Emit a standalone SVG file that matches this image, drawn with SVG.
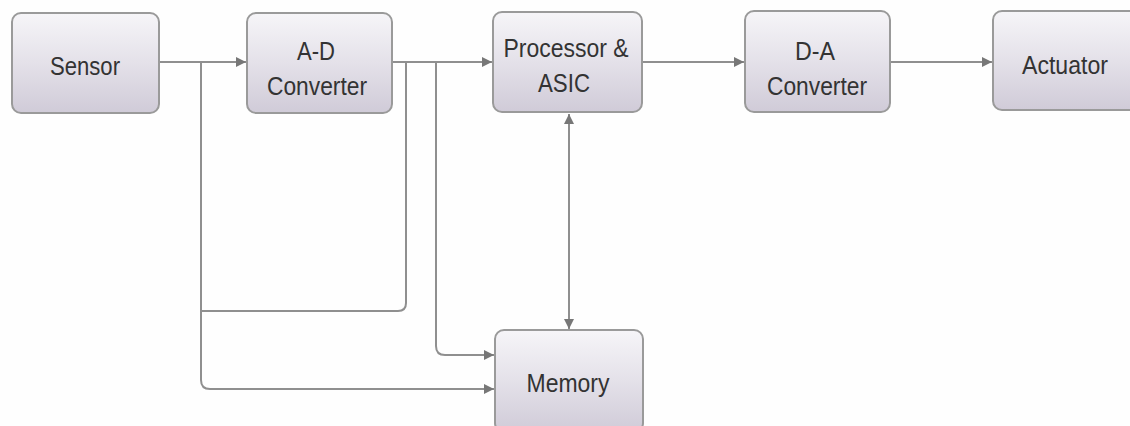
<svg xmlns="http://www.w3.org/2000/svg" width="1130" height="426" viewBox="0 0 1130 426">
<defs>
<linearGradient id="g" x1="0" y1="0" x2="0" y2="1">
<stop offset="0" stop-color="#f6f5f8"/>
<stop offset="0.5" stop-color="#e4e1e9"/>
<stop offset="1" stop-color="#d0cbd8"/>
</linearGradient>
<marker id="ah" viewBox="0 0 10 10" refX="10" refY="5" markerWidth="10" markerHeight="10" markerUnits="userSpaceOnUse" orient="auto-start-reverse">
<path d="M0,0 L10,5 L0,10 Z" fill="#777"/>
</marker>
<style>
.box{fill:url(#g);stroke:#9a9a9a;stroke-width:2}
.t{font-family:"Liberation Sans",Arial,sans-serif;font-size:26px;fill:#333;text-anchor:middle}
.c{fill:none;stroke:#8f8f8f;stroke-width:2}
</style>
</defs>
<rect width="1130" height="426" fill="#fefefe"/>
<g id="connectors">
<path class="c" d="M159,62 H246" marker-end="url(#ah)"/>
<path class="c" d="M201,62 V380 Q201,389 210,389 H494" marker-end="url(#ah)"/>
<path class="c" d="M201,311 H398 Q406,311 406,303 V62"/>
<path class="c" d="M392,62 H492" marker-end="url(#ah)"/>
<path class="c" d="M436,62 V346 Q436,355 445,355 H494" marker-end="url(#ah)"/>
<path class="c" d="M569,114 V329" marker-start="url(#ah)" marker-end="url(#ah)"/>
<path class="c" d="M642,62 H744" marker-end="url(#ah)"/>
<path class="c" d="M890,62 H992" marker-end="url(#ah)"/>
</g>
<g id="sensor">
<rect class="box" x="12" y="13" width="147" height="100" rx="9"/>
<text class="t" x="85" y="75" textLength="70" lengthAdjust="spacingAndGlyphs">Sensor</text>
</g>
<g id="ad">
<rect class="box" x="247" y="13" width="145" height="100" rx="9"/>
<text class="t" x="316" y="60" textLength="38" lengthAdjust="spacingAndGlyphs">A-D</text>
<text class="t" x="317" y="95" textLength="100" lengthAdjust="spacingAndGlyphs">Converter</text>
</g>
<g id="processor">
<rect class="box" x="493" y="12" width="149" height="100" rx="9"/>
<text class="t" x="566" y="57" textLength="125" lengthAdjust="spacingAndGlyphs">Processor &amp;</text>
<text class="t" x="564" y="92" textLength="52" lengthAdjust="spacingAndGlyphs">ASIC</text>
</g>
<g id="da">
<rect class="box" x="745" y="11" width="145" height="101" rx="9"/>
<text class="t" x="815" y="60" textLength="40" lengthAdjust="spacingAndGlyphs">D-A</text>
<text class="t" x="817" y="95" textLength="100" lengthAdjust="spacingAndGlyphs">Converter</text>
</g>
<g id="actuator">
<rect class="box" x="993" y="11" width="150" height="99" rx="9"/>
<text class="t" x="1065" y="74" textLength="86" lengthAdjust="spacingAndGlyphs">Actuator</text>
</g>
<g id="memory">
<rect class="box" x="495" y="330" width="148" height="102" rx="9"/>
<text class="t" x="568" y="392" textLength="83" lengthAdjust="spacingAndGlyphs">Memory</text>
</g>
</svg>
